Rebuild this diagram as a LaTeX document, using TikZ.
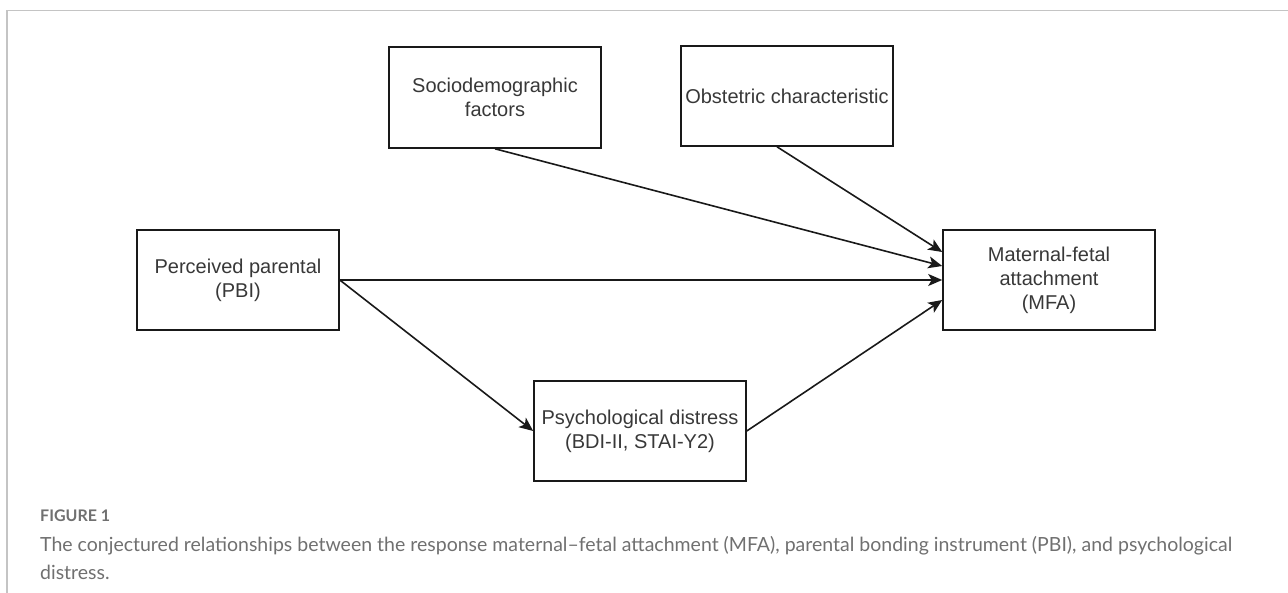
\documentclass[tikz,border=0pt]{standalone}
\usepackage{fontspec}
\setmainfont{Liberation Sans}
\newfontfamily\capfont{Lato}
\usepackage{tikz}
\usetikzlibrary{arrows.meta}
\usetikzlibrary{positioning}
\usepackage{xcolor}
\definecolor{boxtext}{HTML}{383838}
\definecolor{frameline}{HTML}{C4C4C4}
\definecolor{captext}{HTML}{707070}

\begin{document}
\begin{tikzpicture}[x=1pt,y=-1pt,
  factor/.style={draw=black!90, line width=1.6pt, minimum width=212pt, minimum height=100pt,
    inner sep=0pt, align=center, text=boxtext, font=\fontsize{20pt}{24pt}\selectfont},
  arr/.style={draw=black!90, line width=1.6pt, -{Stealth[length=14pt,width=12pt,inset=3.5pt]}}]
\useasboundingbox (0,0) rectangle (1288,593);
% frame
\draw[frameline, line width=1.3pt] (7,593)--(7,10.5)--(1288,10.5);
% boxes
\node[factor, minimum height=101pt] (socio) at (495,97.5) {Sociodemographic\\factors};
\node[factor] (obst) at (787,96) {Obstetric characteristic};
\node[factor, minimum width=202pt] (pbi) at (238,280) {Perceived parental\\(PBI)};
\node[factor] (psych) at (640,431) {Psychological distress\\(BDI-II, STAI-Y2)};
\node[factor] (mfa) at (1049,280) {Maternal-fetal\\attachment\\(MFA)};
% paths
\draw[arr] (socio.south) -- ([yshift=14pt]mfa.west);
\draw[arr] ([xshift=-10pt]obst.south) -- ([yshift=28pt]mfa.west);
\draw[arr] (pbi.east) -- (mfa.west);
\draw[arr] (pbi.east) -- (psych.west);
\draw[arr] (psych.east) -- ([yshift=-20pt]mfa.west);
% caption
\node[anchor=base west, inner sep=0pt, text=captext, font={\capfont\fontsize{16pt}{19pt}\selectfont\bfseries}] (figlab) at (40,521) {FIGURE 1};
\node[anchor=base west, inner sep=0pt, align=left, text=captext, font=\capfont\fontsize{19.5pt}{28pt}\selectfont] (figcap) at (40,579)
  {The conjectured relationships between the response maternal–fetal attachment (MFA), parental bonding instrument (PBI), and psychological\\distress.};
\end{tikzpicture}
\end{document}
